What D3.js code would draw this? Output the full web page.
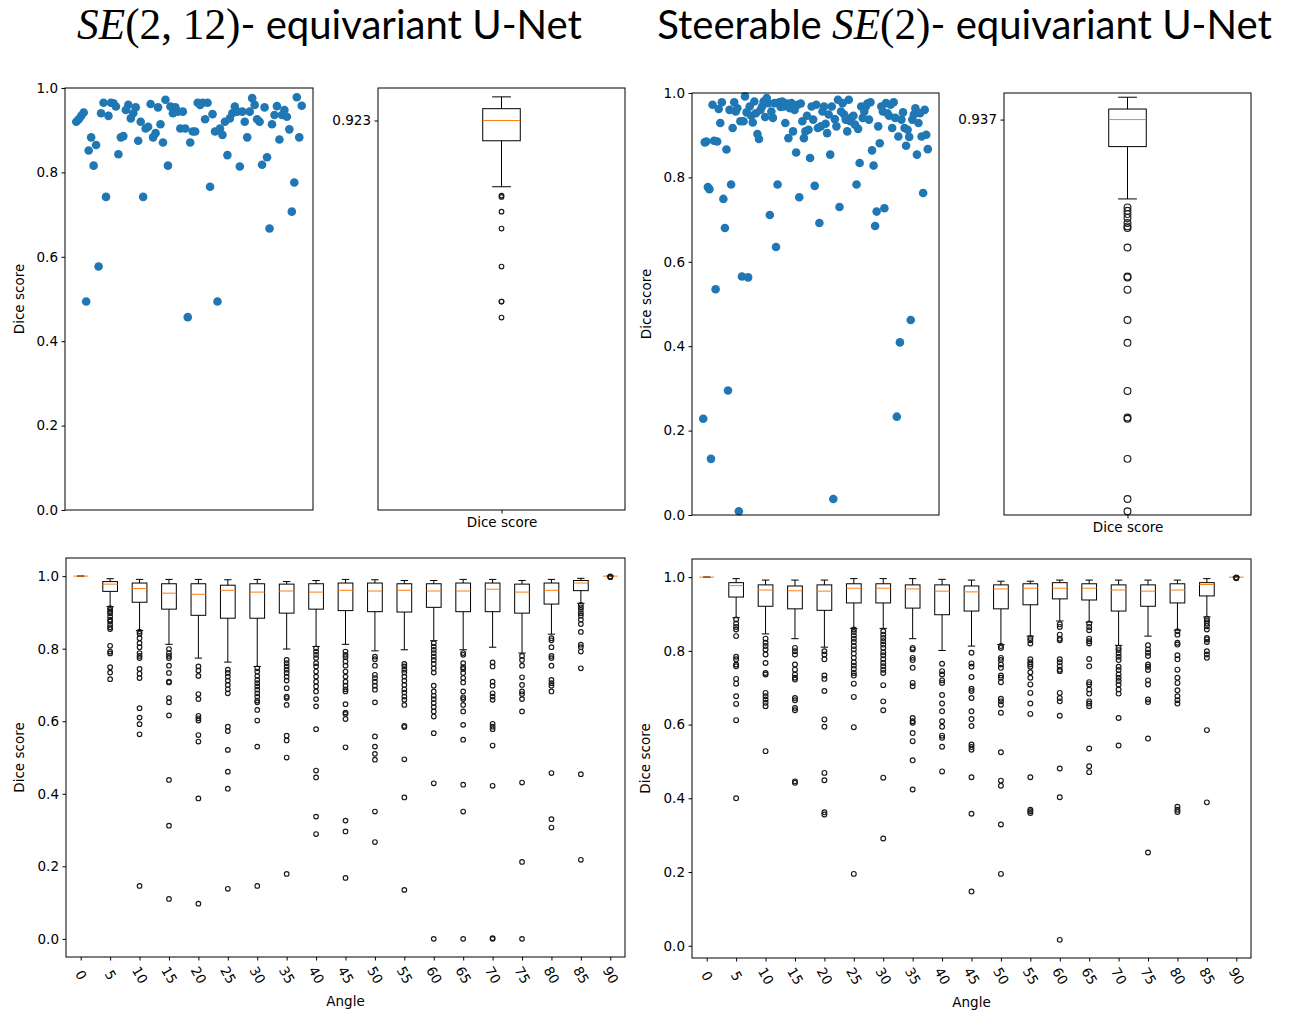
<!DOCTYPE html>
<html>
<head>
<meta charset="utf-8">
<script src="https://cdn.jsdelivr.net/npm/d3@7"></script>
<style>
  body { margin: 0; background: #fff; }
  text { font-family: "DejaVu Sans", sans-serif; }
</style>
</head>
<body>
<svg id="fig" width="1304" height="1011"></svg>
<script>
// ---- data ----
const yTicks = [0, 0.2, 0.4, 0.6, 0.8, 1.0];
const angles = [0, 5, 10, 15, 20, 25, 30, 35, 40, 45, 50, 55, 60, 65, 70, 75, 80, 85, 90];

// SE(2,12) model: dice per test image (in sample order)
const seScatter = [0.920,0.926,0.934,0.942,0.494,0.852,0.883,0.816,0.865,0.577,0.940,0.965,0.742,0.934,0.965,0.964,
  0.956,0.843,0.883,0.886,0.948,0.960,0.928,0.940,0.954,0.875,0.920,0.742,0.904,0.908,0.962,0.883,0.893,0.954,0.914,
  0.871,0.972,0.816,0.956,0.940,0.954,0.944,0.904,0.944,0.904,0.457,0.871,0.897,0.897,0.965,0.960,0.965,0.926,0.965,
  0.766,0.938,0.897,0.494,0.904,0.889,0.920,0.841,0.928,0.940,0.956,0.944,0.814,0.944,0.920,0.883,0.944,0.976,0.960,
  0.926,0.920,0.818,0.954,0.836,0.667,0.914,0.936,0.957,0.878,0.936,0.948,0.932,0.902,0.707,0.776,0.978,0.883,0.958];
// [lower whisker, q1, median, q3, upper whisker]
const seBoxStats = [0.766, 0.875, 0.923, 0.951, 0.979];
const seBoxOut = [0.745, 0.742, 0.707, 0.667, 0.577, 0.494, 0.494, 0.456];

// Steerable SE(2) model
const stScatter = [0.228,0.883,0.885,0.777,0.772,0.133,0.972,0.887,0.535,0.885,0.962,0.929,0.978,0.749,0.680,0.866,
  0.295,0.960,0.783,0.917,0.978,0.956,0.964,0.009,0.933,0.565,0.933,0.992,0.954,0.563,0.968,0.946,0.930,0.980,0.952,
  0.903,0.891,0.960,0.968,0.980,0.943,0.988,0.976,0.711,0.956,0.941,0.976,0.635,0.783,0.978,0.967,0.980,0.968,0.929,
  0.975,0.893,0.964,0.976,0.909,0.960,0.859,0.972,0.753,0.975,0.933,0.893,0.909,0.946,0.913,0.846,0.968,0.937,0.780,
  0.972,0.917,0.692,0.921,0.956,0.968,0.927,0.905,0.949,0.854,0.968,0.038,0.938,0.921,0.984,0.730,0.956,0.976,0.949,
  0.937,0.909,0.984,0.933,0.943,0.946,0.925,0.783,0.915,0.834,0.968,0.941,0.956,0.968,0.975,0.937,0.978,0.864,0.828,
  0.685,0.719,0.921,0.881,0.968,0.956,0.727,0.976,0.952,0.946,0.972,0.917,0.978,0.941,0.233,0.897,0.409,0.937,0.954,
  0.917,0.875,0.913,0.896,0.462,0.937,0.949,0.964,0.854,0.929,0.952,0.897,0.763,0.960,0.901,0.867];
const stBoxStats = [0.749, 0.873, 0.937, 0.962, 0.990];
const stBoxOut = [0.729,0.721,0.713,0.704,0.692,0.684,0.680,0.634,0.565,0.563,0.534,0.462,0.408,0.294,0.231,0.228,0.133,0.038,0.009];

// dice per rotation angle, SE(2,12)
const seAngleStats = [
  [1,1,1,1,1],
  [0.916,0.958,0.978,0.985,0.993],
  [0.850,0.928,0.966,0.981,0.991],
  [0.812,0.909,0.953,0.979,0.991],
  [0.774,0.892,0.950,0.979,0.991],
  [0.763,0.884,0.961,0.975,0.990],
  [0.751,0.884,0.956,0.979,0.991],
  [0.799,0.898,0.959,0.978,0.985],
  [0.806,0.909,0.956,0.979,0.988],
  [0.812,0.905,0.961,0.981,0.991],
  [0.794,0.902,0.959,0.981,0.990],
  [0.797,0.901,0.961,0.979,0.988],
  [0.822,0.914,0.959,0.979,0.988],
  [0.797,0.902,0.959,0.981,0.991],
  [0.804,0.902,0.964,0.981,0.991],
  [0.788,0.898,0.956,0.978,0.988],
  [0.840,0.923,0.961,0.981,0.991],
  [0.925,0.960,0.981,0.988,0.994],
  [1,1,1,1,1]
];
const seAngleOut = [
  [],
  [0.912,0.907,0.902,0.898,0.889,0.880,0.875,0.866,0.859,0.854,0.808,0.792,0.787,0.749,0.734,0.716],
  [0.847,0.841,0.829,0.815,0.804,0.788,0.780,0.774,0.744,0.731,0.719,0.636,0.610,0.592,0.564,0.146],
  [0.799,0.788,0.780,0.774,0.753,0.733,0.709,0.707,0.664,0.652,0.616,0.438,0.312,0.110],
  [0.751,0.740,0.725,0.675,0.661,0.615,0.608,0.602,0.562,0.544,0.387,0.097],
  [0.742,0.733,0.723,0.712,0.700,0.688,0.677,0.585,0.573,0.521,0.461,0.414,0.138],
  [0.746,0.737,0.725,0.714,0.705,0.696,0.687,0.677,0.668,0.657,0.652,0.631,0.602,0.530,0.146],
  [0.769,0.760,0.751,0.742,0.733,0.723,0.712,0.691,0.668,0.664,0.645,0.560,0.547,0.500,0.179],
  [0.801,0.792,0.783,0.774,0.760,0.751,0.737,0.723,0.709,0.696,0.682,0.661,0.641,0.578,0.464,0.445,0.337,0.289],
  [0.792,0.783,0.777,0.765,0.753,0.737,0.723,0.709,0.698,0.688,0.682,0.647,0.624,0.620,0.606,0.528,0.326,0.296,0.168],
  [0.778,0.771,0.753,0.728,0.719,0.709,0.698,0.687,0.652,0.558,0.530,0.510,0.494,0.351,0.267],
  [0.758,0.751,0.742,0.734,0.723,0.712,0.700,0.688,0.679,0.668,0.659,0.645,0.587,0.584,0.495,0.390,0.135],
  [0.815,0.806,0.797,0.788,0.778,0.769,0.758,0.746,0.734,0.698,0.682,0.670,0.661,0.650,0.639,0.627,0.613,0.567,0.429,0.000],
  [0.788,0.783,0.760,0.749,0.744,0.733,0.719,0.707,0.682,0.666,0.661,0.645,0.627,0.590,0.549,0.425,0.351,0.000],
  [0.762,0.751,0.709,0.698,0.677,0.668,0.659,0.593,0.585,0.578,0.533,0.422,0.002,0.000],
  [0.780,0.769,0.753,0.721,0.700,0.682,0.675,0.661,0.627,0.431,0.212,0.000],
  [0.829,0.823,0.804,0.780,0.774,0.753,0.714,0.705,0.698,0.682,0.457,0.330,0.307],
  [0.921,0.914,0.907,0.898,0.891,0.880,0.868,0.846,0.811,0.804,0.792,0.746,0.454,0.218],
  [0.999,0.998,0.997]
];

// dice per rotation angle, steerable SE(2)
const stAngleStats = [
  [1,1,1,1,1],
  [0.890,0.946,0.977,0.985,0.996],
  [0.846,0.921,0.965,0.979,0.992],
  [0.833,0.914,0.963,0.976,0.992],
  [0.810,0.910,0.962,0.979,0.992],
  [0.861,0.930,0.970,0.982,0.996],
  [0.861,0.930,0.970,0.982,0.996],
  [0.833,0.916,0.968,0.979,0.996],
  [0.801,0.898,0.962,0.979,0.994],
  [0.813,0.908,0.960,0.976,0.992],
  [0.817,0.914,0.968,0.979,0.989],
  [0.840,0.925,0.970,0.982,0.989],
  [0.881,0.941,0.970,0.985,0.992],
  [0.878,0.938,0.970,0.982,0.992],
  [0.815,0.908,0.965,0.979,0.992],
  [0.840,0.921,0.962,0.979,0.992],
  [0.856,0.930,0.965,0.982,0.992],
  [0.892,0.949,0.980,0.985,0.996],
  [1,1,1,1,1]
];
const stAngleOut = [
  [],
  [0.885,0.874,0.865,0.858,0.840,0.784,0.777,0.763,0.758,0.724,0.711,0.677,0.656,0.612,0.400],
  [0.833,0.822,0.813,0.804,0.790,0.767,0.740,0.736,0.686,0.677,0.668,0.659,0.650,0.528],
  [0.808,0.799,0.790,0.763,0.749,0.736,0.727,0.722,0.672,0.666,0.645,0.639,0.446,0.442],
  [0.799,0.790,0.777,0.733,0.724,0.691,0.614,0.594,0.469,0.449,0.362,0.356],
  [0.858,0.851,0.842,0.833,0.824,0.813,0.804,0.793,0.781,0.769,0.760,0.751,0.740,0.733,0.711,0.675,0.593,0.195],
  [0.853,0.844,0.835,0.826,0.817,0.808,0.796,0.788,0.777,0.767,0.758,0.749,0.740,0.707,0.663,0.639,0.456,0.291],
  [0.808,0.804,0.781,0.775,0.754,0.713,0.704,0.618,0.609,0.605,0.577,0.555,0.503,0.424],
  [0.765,0.745,0.736,0.720,0.713,0.680,0.657,0.636,0.609,0.594,0.570,0.564,0.540,0.473],
  [0.795,0.766,0.757,0.729,0.697,0.691,0.672,0.636,0.615,0.596,0.546,0.539,0.532,0.457,0.358,0.147],
  [0.813,0.808,0.781,0.775,0.763,0.754,0.733,0.727,0.715,0.670,0.663,0.654,0.632,0.525,0.448,0.434,0.329,0.195],
  [0.835,0.829,0.820,0.777,0.769,0.763,0.757,0.742,0.727,0.709,0.686,0.657,0.629,0.457,0.369,0.365,0.360],
  [0.872,0.865,0.844,0.833,0.829,0.777,0.769,0.758,0.749,0.745,0.686,0.672,0.663,0.624,0.481,0.403,0.016],
  [0.874,0.865,0.856,0.833,0.826,0.820,0.778,0.758,0.715,0.709,0.695,0.684,0.663,0.657,0.650,0.535,0.487,0.471],
  [0.808,0.802,0.793,0.784,0.775,0.757,0.748,0.736,0.727,0.718,0.709,0.695,0.684,0.618,0.543],
  [0.815,0.804,0.795,0.786,0.763,0.757,0.748,0.720,0.709,0.668,0.661,0.562,0.253],
  [0.853,0.844,0.822,0.817,0.788,0.777,0.749,0.727,0.713,0.693,0.677,0.666,0.657,0.377,0.369,0.363],
  [0.887,0.881,0.874,0.867,0.858,0.835,0.831,0.824,0.799,0.790,0.781,0.585,0.389],
  [0.999,0.998,0.997]
];

// ---- drawing ----
const svg = d3.select("#fig");
const TICK_FS = "13.5px";
const BLUE = "#1f77b4", ORANGE = "#ff7f0e";

function panel(left, top, right, bottom) {
  const g = svg.append("g").attr("transform", `translate(${left},${top})`);
  return { g: g, left: left, top: top, w: right - left, h: bottom - top };
}

function frame(p) {
  p.g.append("rect").attr("width", p.w).attr("height", p.h)
    .attr("fill", "none").attr("stroke", "#000").attr("stroke-width", 1);
}

function styleAxis(sel) {
  sel.select(".domain").remove();
  sel.selectAll(".tick line").attr("stroke", "#000");
  sel.selectAll(".tick text").attr("fill", "#000").style("font-size", TICK_FS);
}

function yLabel(x, cy) {
  svg.append("text").attr("transform", `translate(${x},${cy}) rotate(-90)`)
    .attr("text-anchor", "middle").style("font-size", "13.5px").text("Dice score");
}

function drawBox(g, x, y, pos, width, stats, outs, r) {
  const lo = stats[0], q1 = stats[1], med = stats[2], q3 = stats[3], hi = stats[4];
  const cx = x(pos), x0 = x(pos - width / 2), x1 = x(pos + width / 2);
  const c0 = x(pos - width / 4), c1 = x(pos + width / 4);
  g.append("line").attr("x1", cx).attr("x2", cx).attr("y1", y(q1)).attr("y2", y(lo)).attr("stroke", "#000");
  g.append("line").attr("x1", cx).attr("x2", cx).attr("y1", y(q3)).attr("y2", y(hi)).attr("stroke", "#000");
  g.append("line").attr("x1", c0).attr("x2", c1).attr("y1", y(lo)).attr("y2", y(lo)).attr("stroke", "#000");
  g.append("line").attr("x1", c0).attr("x2", c1).attr("y1", y(hi)).attr("y2", y(hi)).attr("stroke", "#000");
  g.append("rect").attr("x", x0).attr("y", y(q3)).attr("width", x1 - x0).attr("height", y(q1) - y(q3))
    .attr("fill", "none").attr("stroke", "#000");
  g.append("line").attr("x1", x0).attr("x2", x1).attr("y1", y(med)).attr("y2", y(med)).attr("stroke", ORANGE);
  g.selectAll(null).data(outs).join("circle")
    .attr("cx", cx).attr("cy", d => y(d)).attr("r", r)
    .attr("fill", "none").attr("stroke", "#1a1a1a").attr("stroke-width", 1.15);
}

function scatterPanel(p, vals) {
  const n = vals.length;
  const x = d3.scaleLinear().domain([-(n - 1) * 0.05, (n - 1) * 1.05]).range([0, p.w]);
  const y = d3.scaleLinear().domain([0, 1]).range([p.h, 0]);
  p.g.selectAll("circle").data(vals).join("circle")
    .attr("cx", (d, i) => x(i)).attr("cy", d => y(d)).attr("r", 4.3).attr("fill", BLUE);
  p.g.append("g").call(d3.axisLeft(y).tickValues(yTicks).tickFormat(d3.format(".1f")).tickSize(3.5).tickPadding(3.5))
    .call(styleAxis);
  frame(p);
  yLabel(p.left - 41, p.top + p.h / 2);
}

function singleBoxPanel(p, stats, outs, r) {
  const x = d3.scaleLinear().domain([0.5, 1.5]).range([0, p.w]);
  const y = d3.scaleLinear().domain([0, 1]).range([p.h, 0]);
  drawBox(p.g, x, y, 1, 0.152, stats, outs, r);
  p.g.append("g").call(d3.axisLeft(y).tickValues([stats[2]]).tickFormat(d3.format(".3f")).tickSize(3.5).tickPadding(3.5))
    .call(styleAxis);
  p.g.append("g").attr("transform", `translate(0,${p.h})`)
    .call(d3.axisBottom(x).tickValues([1]).tickFormat(() => "Dice score").tickSize(3.5).tickPadding(3.5))
    .call(styleAxis);
  frame(p);
}

function anglePanel(p, statsList, outList, r) {
  const all = [];
  statsList.forEach(s => all.push(...s));
  outList.forEach(o => all.push(...o));
  const lo = d3.min(all), hi = d3.max(all), pad = (hi - lo) * 0.05;
  const x = d3.scaleLinear().domain([0.5, angles.length + 0.5]).range([0, p.w]);
  const y = d3.scaleLinear().domain([lo - pad, hi + pad]).range([p.h, 0]);
  angles.forEach((a, i) => drawBox(p.g, x, y, i + 1, 0.5, statsList[i], outList[i], r));
  p.g.append("g").call(d3.axisLeft(y).tickValues(yTicks).tickFormat(d3.format(".1f")).tickSize(3.5).tickPadding(3.5))
    .call(styleAxis);
  const xa = p.g.append("g").attr("transform", `translate(0,${p.h})`)
    .call(d3.axisBottom(x).tickValues(d3.range(1, angles.length + 1)).tickFormat(i => angles[i - 1]).tickSize(3.5))
    .call(styleAxis);
  // rotated tick labels like matplotlib rotation=-60
  xa.selectAll(".tick text").attr("y", null).attr("dy", null)
    .attr("text-anchor", "middle").attr("dominant-baseline", "central")
    .attr("transform", "translate(0,18) rotate(60)");
  frame(p);
  yLabel(p.left - 42, p.top + p.h / 2);
  svg.append("text").attr("x", p.left + p.w / 2).attr("y", p.top + p.h + 49)
    .attr("text-anchor", "middle").style("font-size", "13.5px").text("Angle");
}

scatterPanel(panel(65, 88, 313, 510), seScatter);
singleBoxPanel(panel(378, 88, 625, 510), seBoxStats, seBoxOut, 2.3);
scatterPanel(panel(692, 93, 939, 515), stScatter);
singleBoxPanel(panel(1004, 93, 1251, 515), stBoxStats, stBoxOut, 3.4);
anglePanel(panel(66, 558, 625, 957), seAngleStats, seAngleOut, 2.3);
anglePanel(panel(692, 559, 1251, 958), stAngleStats, stAngleOut, 2.4);

// titles: math part in serif, rest in sans; whole line scaled to the measured width
function title(cx, targetW, parts) {
  const t = svg.append("text").attr("x", cx).attr("y", 39).attr("text-anchor", "middle");
  const spans = parts.map(p => t.append("tspan").text(p[0])
      .style("font-family", p[1] ? "'Liberation Serif', serif" : "Lato, 'Open Sans', sans-serif")
      .style("font-style", p[2] ? "italic" : "normal"));
  const setSize = s => spans.forEach((sp, i) => sp.style("font-size", (parts[i][1] ? s * 1.08 : s) + "px"));
  setSize(34);
  const w = t.node().getComputedTextLength();
  setSize(34 * targetW / w);
}
title(329.5, 505, [["SE", true, true], ["(2, 12)", true, false], ["- equivariant U-Net", false, false]]);
title(964.5, 615, [["Steerable ", false, false], ["SE", true, true], ["(2)", true, false], ["- equivariant U-Net", false, false]]);
</script>
</body>
</html>
